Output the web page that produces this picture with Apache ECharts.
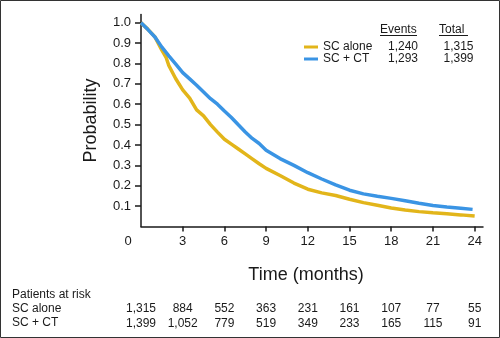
<!DOCTYPE html>
<html lang="en">

<head>
    <meta charset="UTF-8">
    <title>Probability over time</title>
    <script src="https://cdn.jsdelivr.net/npm/echarts@6/dist/echarts.min.js"></script>
    <style>
        body {
            margin: 0;
            background-color: #fff;
        }
        #main {
            width: 500px;
            height: 338px;
        }
    </style>
</head>

<body>
    <div id="main"></div>
    <script type="text/javascript">
        // curves (months, probability)
        var timeAlone = [0, 0.5, 1, 1.5, 1.8, 2, 2.5, 3, 3.5, 4, 4.5, 5, 5.5, 6, 6.5, 7, 7.5, 8, 8.5, 9, 10, 11, 12, 13, 14, 15, 16, 17, 18, 19, 20, 21, 22, 23, 24];
        var probAlone = [1.0, 0.967, 0.93, 0.865, 0.83, 0.79, 0.725, 0.67, 0.63, 0.572, 0.543, 0.5, 0.463, 0.428, 0.404, 0.38, 0.356, 0.332, 0.308, 0.285, 0.25, 0.213, 0.183, 0.165, 0.152, 0.134, 0.117, 0.104, 0.091, 0.081, 0.073, 0.067, 0.062, 0.057, 0.051];

        var timeCT = [0, 0.5, 1, 1.5, 2, 2.5, 3, 3.5, 4, 4.5, 5, 5.5, 6, 6.5, 7, 7.5, 8, 8.5, 9, 10, 11, 12, 13, 14, 15, 16, 17, 18, 19, 20, 21, 22, 23, 23.85];
        var probCT = [1.0, 0.966, 0.93, 0.88, 0.837, 0.797, 0.755, 0.724, 0.693, 0.66, 0.627, 0.6, 0.567, 0.535, 0.499, 0.464, 0.432, 0.407, 0.374, 0.333, 0.3, 0.264, 0.233, 0.204, 0.178, 0.16, 0.148, 0.138, 0.126, 0.114, 0.103, 0.096, 0.09, 0.084];

        var seriesNames = ['SC alone', 'SC + CT'];
        var events = ['1,240', '1,293'];
        var totals = ['1,315', '1,399'];

        var xTicks = [0, 3, 6, 9, 12, 15, 18, 21, 24];
        var yTicks = [0.1, 0.2, 0.3, 0.4, 0.5, 0.6, 0.7, 0.8, 0.9, 1.0];

        var riskAlone = ['1,315', '884', '552', '363', '231', '161', '107', '77', '55'];
        var riskCT = ['1,399', '1,052', '779', '519', '349', '233', '165', '115', '91'];

        var font = '"Liberation Sans", Arial, sans-serif';
        var ink = '#1a1a1a';

        function pairs(t, p) {
            return t.map(function (m, i) { return [m, p[i]]; });
        }

        // extra axes that only carry the patients-at-risk numbers
        function riskAxis(values, offset) {
            return {
                type: 'value', gridIndex: 0, position: 'bottom', offset: offset,
                min: 0, max: 24.6,
                axisLine: { show: false }, axisTick: { show: false }, splitLine: { show: false },
                axisLabel: {
                    customValues: xTicks, margin: 0,
                    fontSize: 12, lineHeight: 14, color: ink, fontFamily: font,
                    formatter: function (v) { return values[Math.round(v / 3)]; }
                }
            };
        }

        var myChart = echarts.init(document.getElementById('main'));

        var option = {
            animation: false,
            grid: { left: 141, right: 17, top: 14.5, bottom: 111.5 },
            legend: {
                orient: 'vertical', left: 299, top: 36,
                icon: 'rect', itemWidth: 14, itemHeight: 3, itemGap: 0,
                data: seriesNames,
                formatter: function (name) {
                    var i = seriesNames.indexOf(name);
                    return '{n|' + name + '}{e|' + events[i] + '}{t|' + totals[i] + '}';
                },
                textStyle: {
                    fontSize: 12, color: ink, fontFamily: font,
                    rich: {
                        n: { width: 60, fontSize: 12, lineHeight: 13.5, fontFamily: font, color: ink },
                        e: { width: 40, align: 'center', fontSize: 12, lineHeight: 13.5, fontFamily: font, color: ink },
                        t: { width: 71, align: 'center', fontSize: 12, lineHeight: 13.5, fontFamily: font, color: ink }
                    }
                }
            },
            xAxis: [{
                type: 'value', min: 0, max: 24.6,
                name: 'Time (months)', nameLocation: 'middle', nameGap: 40,
                nameTextStyle: { fontSize: 18, color: ink, fontFamily: font, padding: [0, 12, 0, 0] },
                axisLine: { lineStyle: { color: ink, width: 1.5 } },
                axisTick: { customValues: xTicks.slice(1), length: 5, lineStyle: { color: ink, width: 1.5 } },
                splitLine: { show: false },
                axisLabel: {
                    customValues: xTicks, margin: 8, fontSize: 13, color: ink, fontFamily: font,
                    formatter: function (v) { return v === 0 ? '{z|0}' : String(v); },
                    rich: { z: { padding: [0, 26, 0, 0], fontSize: 13, color: ink, fontFamily: font } }
                }
            },
            riskAxis(riskAlone, 75.5),
            riskAxis(riskCT, 90)],
            yAxis: {
                type: 'value', min: 0, max: 1.04,
                name: 'Probability', nameLocation: 'middle', nameGap: 41,
                nameTextStyle: { fontSize: 18, color: ink, fontFamily: font },
                axisLine: { show: true, lineStyle: { color: ink, width: 1.5 } },
                axisTick: { show: true, customValues: yTicks, length: 6, lineStyle: { color: ink, width: 1.5 } },
                splitLine: { show: false },
                axisLabel: {
                    customValues: yTicks, margin: 10, fontSize: 13, color: ink, fontFamily: font,
                    formatter: function (v) { return v.toFixed(1); }
                }
            },
            graphic: [
                { type: 'rect', shape: { x: 0.5, y: 0.5, width: 499, height: 337 }, style: { fill: 'none', stroke: '#333', lineWidth: 1 } },
                { type: 'text', left: 380, top: 23.5, style: { text: 'Events', fill: ink, font: '12px ' + font } },
                { type: 'line', shape: { x1: 380, y1: 35.5, x2: 417, y2: 35.5 }, style: { stroke: ink, lineWidth: 1 } },
                { type: 'text', left: 439, top: 23.5, style: { text: 'Total', fill: ink, font: '12px ' + font } },
                { type: 'line', shape: { x1: 439, y1: 35.5, x2: 468, y2: 35.5 }, style: { stroke: ink, lineWidth: 1 } },
                { type: 'text', left: 12, top: 288.5, style: { text: 'Patients at risk', fill: ink, font: '12px ' + font } },
                { type: 'text', left: 12, top: 302.5, style: { text: seriesNames[0], fill: ink, font: '12px ' + font } },
                { type: 'text', left: 12, top: 316.5, style: { text: seriesNames[1], fill: ink, font: '12px ' + font } }
            ],
            series: [{
                name: seriesNames[0],
                type: 'line',
                showSymbol: false,
                color: '#E2B51A',
                lineStyle: { width: 3.5 },
                data: pairs(timeAlone, probAlone)
            }, {
                name: seriesNames[1],
                type: 'line',
                showSymbol: false,
                color: '#3A94E4',
                lineStyle: { width: 3.5 },
                data: pairs(timeCT, probCT)
            }]
        };

        myChart.setOption(option);
    </script>
</body>

</html>
